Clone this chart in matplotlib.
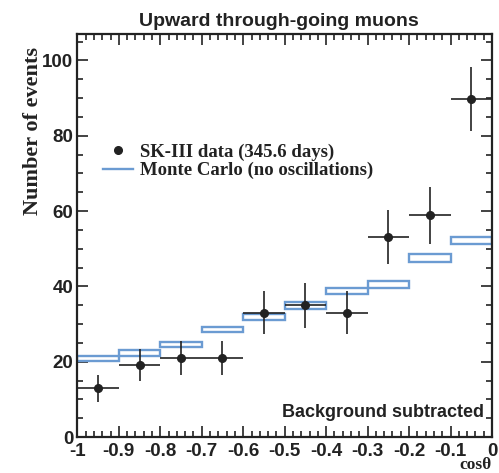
import matplotlib.pyplot as plt
import numpy as np
from matplotlib.lines import Line2D
from matplotlib.ticker import MultipleLocator

# zenith angle bins
bin_edges = [-1.0, -0.9, -0.8, -0.7, -0.6, -0.5, -0.4, -0.3, -0.2, -0.1, 0.0]

# SK-III data, background subtracted
data_y = [13.0, 19.1, 21.0, 21.0, 33.0, 35.0, 33.0, 53.2, 58.9, 89.7]
data_err = [3.6, 4.3, 4.5, 4.5, 5.7, 6.0, 5.7, 7.2, 7.6, 8.5]

# Monte Carlo (no oscillations) band, low / high edge per bin
mc_lo = [20.1, 21.6, 23.8, 27.8, 31.0, 34.1, 37.9, 39.7, 46.6, 51.2]
mc_hi = [21.6, 23.1, 25.3, 29.3, 32.6, 35.9, 39.7, 41.5, 48.5, 53.2]

x_labels = ['-1', '-0.9', '-0.8', '-0.7', '-0.6', '-0.5', '-0.4',
            '-0.3', '-0.2', '-0.1', '0']

edges = np.array(bin_edges)
centers = 0.5 * (edges[:-1] + edges[1:])
widths = np.diff(edges)

ink = '#222222'
blue = '#6b9bd2'
sans = ['Liberation Sans', 'DejaVu Sans']
serif = ['Liberation Serif', 'DejaVu Serif']

fig = plt.figure(figsize=(4.99, 4.73), dpi=100)
ax = fig.add_axes([0.155, 0.076, 0.831, 0.852])

ax.bar(centers, np.array(mc_hi) - np.array(mc_lo), width=widths, bottom=mc_lo,
       fill=False, edgecolor=blue, linewidth=1.7, zorder=2)
ax.errorbar(centers, data_y, yerr=data_err, xerr=widths / 2, fmt='o',
            color=ink, markersize=5.5, elinewidth=1.2, capsize=0, zorder=3)

ax.set_xlim(-1, 0)
ax.set_ylim(0, 107)
ax.xaxis.set_minor_locator(MultipleLocator(0.02))
ax.yaxis.set_major_locator(MultipleLocator(20))
ax.yaxis.set_minor_locator(MultipleLocator(5))
ax.tick_params(which='both', direction='in', top=True, right=True,
               colors=ink, width=1.2)
ax.tick_params(which='major', length=8, labelsize=13.5, pad=3)
ax.tick_params(axis='x', which='major', pad=4.5)
ax.tick_params(which='minor', length=4)
ax.set_xticks(np.arange(-1, 0.01, 0.1))
ax.set_xticklabels(x_labels)
for lab in ax.get_xticklabels() + ax.get_yticklabels():
    lab.set_family(sans)
    lab.set_fontweight('bold')
for sp in ax.spines.values():
    sp.set_linewidth(1.6)
    sp.set_color(ink)

ax.set_title('Upward through-going muons', family=sans, fontweight='bold',
             fontsize=14, color=ink, pad=6, x=0.487)
ax.set_ylabel('Number of events', family=serif, fontweight='bold',
              fontsize=16, color=ink, loc='top')
ax.yaxis.set_label_coords(-0.082, 0.968)
ax.text(1.0, -0.089, 'cos\u03b8', transform=ax.transAxes, ha='right',
        va='bottom', family=serif, fontweight='bold', fontsize=12.5, color=ink)
ax.text(0.98, 0.06, 'Background subtracted', transform=ax.transAxes,
        ha='right', va='center', family=sans, fontweight='bold',
        fontsize=13, color=ink)

handles = [Line2D([], [], marker='o', linestyle='none', color=ink, markersize=5.5),
           Line2D([], [], color=blue, linewidth=1.7)]
ax.legend(handles, ['SK-III data (345.6 days)', 'Monte Carlo (no oscillations)'],
          loc='upper left', bbox_to_anchor=(0.02, 0.77), frameon=False,
          handlelength=1.6, handletextpad=0.4, labelspacing=0.05,
          prop={'family': serif, 'weight': 'bold', 'size': 13.5},
          labelcolor=ink)

fig.savefig('out.png', dpi=100)
